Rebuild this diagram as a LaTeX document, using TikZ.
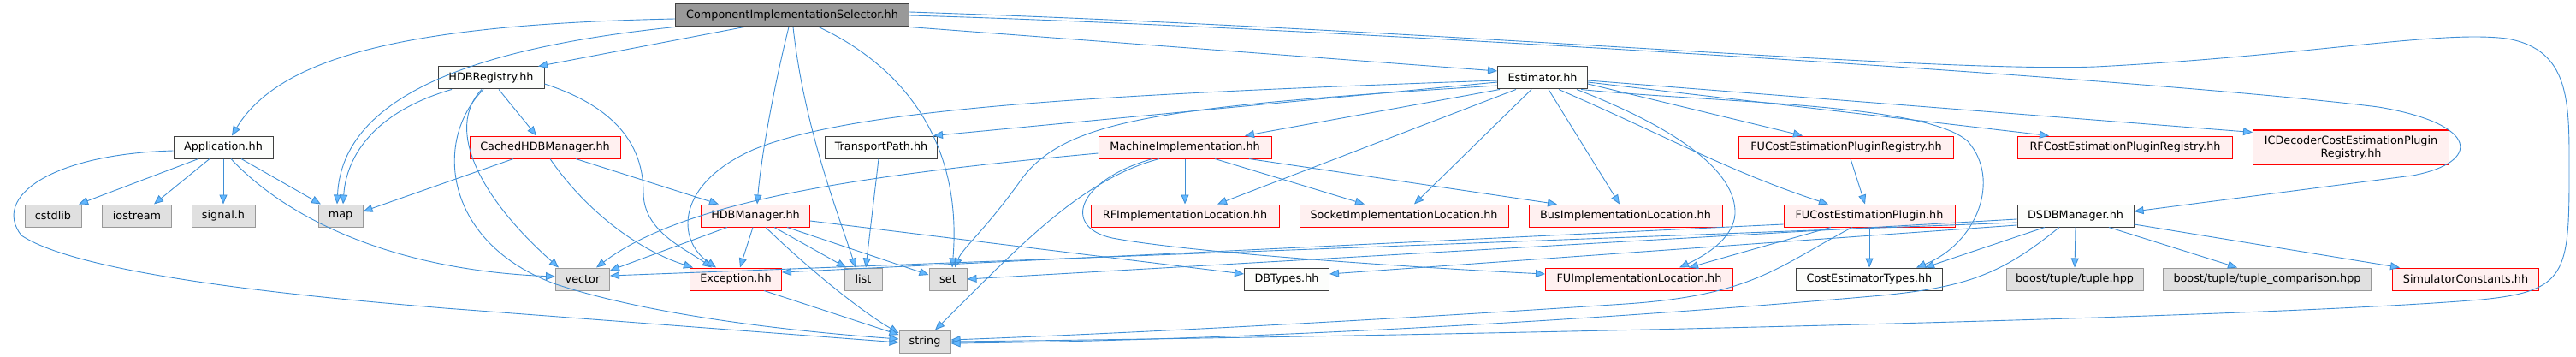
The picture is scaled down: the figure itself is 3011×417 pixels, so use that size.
\documentclass[tikz,border=0pt]{standalone}
\usepackage{fontspec}
\setmainfont{DejaVu Sans}
\usetikzlibrary{arrows.meta}
\definecolor{linec}{HTML}{3F8FD6}
\definecolor{arrowc}{HTML}{63B8FF}
\definecolor{rootfill}{HTML}{999999}
\definecolor{darkb}{HTML}{404040}
\definecolor{redfill}{HTML}{FFF0F0}
\definecolor{sysfill}{HTML}{E0E0E0}
\definecolor{sysb}{HTML}{999999}
\definecolor{whitefill}{HTML}{FCFDFB}
\tikzset{
  nbase/.style={rectangle, inner sep=0pt, minimum height=26pt, line width=1pt, font=\fontsize{12.8pt}{15pt}\selectfont, text=black},
  nroot/.style={nbase, fill=rootfill, draw=darkb},
  nred/.style={nbase, fill=redfill, draw=red},
  nwhite/.style={nbase, fill=whitefill, draw=darkb},
  nsys/.style={nbase, fill=sysfill, draw=sysb},
  dep/.style={draw=linec, line width=0.9pt, line join=round, -{Triangle[length=11pt,width=9pt,fill=arrowc]}}
}
\begin{document}
\begin{tikzpicture}[x=1pt,y=-1pt]
\useasboundingbox (0,0) rectangle (3011,417);
% nodes
\node[nroot, minimum width=273pt] (cis) at (926,18) {ComponentImplementationSelector.hh};
\node[nwhite, minimum width=116pt] (app) at (261,172) {Application.hh};
\node[nsys, minimum width=66pt] (cstdlib) at (62,252) {cstdlib};
\node[nsys, minimum width=81pt] (ios) at (160,252) {iostream};
\node[nsys, minimum width=74pt] (sig) at (261,252) {signal.h};
\node[nsys, minimum width=52pt] (map) at (398,252) {map};
\node[nwhite, minimum width=124pt] (hdbreg) at (574,91) {HDBRegistry.hh};
\node[nred, minimum width=176pt] (chdb) at (637,172) {CachedHDBManager.hh};
\node[nred, minimum width=127pt] (hdbm) at (883,252) {HDBManager.hh};
\node[nsys, minimum width=63pt] (vector) at (681,326) {vector};
\node[nred, minimum width=107pt] (exc) at (860,326) {Exception.hh};
\node[nsys, minimum width=44pt] (list) at (1009,326) {list};
\node[nwhite, minimum width=131pt] (tp) at (1030,172) {TransportPath.hh};
\node[nsys, minimum width=44pt] (set) at (1108,326) {set};
\node[nsys, minimum width=60pt] (string) at (1081,399) {string};
\node[nred, minimum width=202pt] (mi) at (1385,172) {MachineImplementation.hh};
\node[nred, minimum width=220pt] (rf) at (1385,252) {RFImplementationLocation.hh};
\node[nwhite, minimum width=99pt] (dbt) at (1504,326) {DBTypes.hh};
\node[nwhite, minimum width=105pt] (est) at (1803,91) {Estimator.hh};
\node[nred, minimum width=244pt] (sock) at (1641,252) {SocketImplementationLocation.hh};
\node[nred, minimum width=226pt] (bus) at (1900,252) {BusImplementationLocation.hh};
\node[nred, minimum width=219pt] (fuimpl) at (1916,326) {FUImplementationLocation.hh};
\node[nred, minimum width=251pt] (fucepr) at (2158,172) {FUCostEstimationPluginRegistry.hh};
\node[nred, minimum width=200pt] (fucep) at (2185,252) {FUCostEstimationPlugin.hh};
\node[nwhite, minimum width=171pt] (cet) at (2185,326) {CostEstimatorTypes.hh};
\node[nwhite, minimum width=136pt] (dsdb) at (2426,252) {DSDBManager.hh};
\node[nsys, minimum width=160pt] (tuple) at (2425,326) {boost/tuple/tuple.hpp};
\node[nred, minimum width=251pt] (rfcepr) at (2484,172) {RFCostEstimationPluginRegistry.hh};
\node[nred, minimum width=229pt, minimum height=40pt, align=center] (icd) at (2748,172) {ICDecoderCostEstimationPlugin\\Registry.hh};
\node[nsys, minimum width=243pt] (tc) at (2650,326) {boost/tuple/tuple\_comparison.hpp};
\node[nred, minimum width=171pt] (sc) at (2882,326) {SimulatorConstants.hh};
% edges from CIS
\draw[dep] ([yshift=-4pt]cis.west) .. controls (500,28) and (330,60) .. ([xshift=10pt]app.north);
\draw[dep] (cis.south west) .. controls (560,55) and (400,110) .. ([xshift=-4pt]map.north);
\draw[dep] ([xshift=-56pt]cis.south) -- ([xshift=55pt]hdbreg.north);
\draw[dep] ([xshift=-4pt]cis.south) .. controls (905,100) and (890,180) .. ([xshift=2pt]hdbm.north);
\draw[dep] ([xshift=1pt]cis.south) .. controls (940,150) and (980,250) .. ([xshift=-9pt]list.north);
\draw[dep] ([xshift=31pt]cis.south) .. controls (1060,80) and (1125,170) .. ([xshift=5pt]set.north);
\draw[dep] (cis.south east) -- ([yshift=8pt]est.west);
\draw[dep] (cis.east) .. controls (1500,30) and (2500,90) .. (2780,125) .. controls (2900,145) and (2900,190) .. (2820,205) -- ([yshift=5pt]dsdb.east);
\draw[dep] ([yshift=4pt]cis.east) .. controls (1700,35) and (2250,85) .. (2450,78) .. controls (2700,65) and (2850,35) .. (2930,45) .. controls (3005,58) and (3003,120) .. (3003,200) .. controls (3003,320) and (3000,340) .. (2900,350) .. controls (2600,375) and (1500,395) .. (string.east);
% Application
\draw[dep] ([xshift=-29pt]app.south) -- ([xshift=30pt]cstdlib.north);
\draw[dep] ([xshift=-16pt]app.south) -- ([xshift=20pt]ios.north);
\draw[dep] (app.south) -- (sig.north);
\draw[dep] ([xshift=21pt]app.south) -- ([xshift=-23pt]map.north);
\draw[dep] ([xshift=9pt]app.south) .. controls (330,250) and (450,315) .. ([yshift=3pt]vector.west);
\draw[dep] ([yshift=-4pt]app.west) .. controls (60,180) and (-10,230) .. (25,275) .. controls (100,325) and (400,350) .. (520,360) -- ([yshift=-1pt]string.west);
% HDBRegistry
\draw[dep] ([xshift=-46pt]hdbreg.south) .. controls (440,130) and (405,180) .. ([xshift=3pt]map.north);
\draw[dep] ([xshift=9pt]hdbreg.south) -- ([xshift=-10pt]chdb.north);
\draw[dep] ([xshift=-11pt]hdbreg.south) .. controls (520,150) and (560,230) .. ([xshift=-28pt]vector.north);
\draw[dep] ([xshift=-9pt]hdbreg.south) .. controls (505,165) and (520,285) .. (650,332) .. controls (750,365) and (900,385) .. ([yshift=3pt]string.west);
\draw[dep] ([yshift=-7pt]hdbreg.east) .. controls (720,125) and (752,170) .. (752,225) .. controls (752,270) and (800,290) .. ([xshift=-28pt]exc.north);
% CachedHDBManager
\draw[dep] ([xshift=-37pt]chdb.south) -- ([yshift=5pt]map.east);
\draw[dep] ([xshift=36pt]chdb.south) -- ([xshift=-43pt]hdbm.north);
\draw[dep] ([xshift=6pt]chdb.south) .. controls (680,240) and (740,290) .. ([xshift=-50pt]exc.north);
% HDBManager
\draw[dep] ([xshift=-33pt]hdbm.south) -- ([yshift=10pt]vector.east);
\draw[dep] ([xshift=-3pt]hdbm.south) -- ([xshift=5pt]exc.north);
\draw[dep] ([xshift=22pt]hdbm.south) -- ([xshift=-20pt]list.north);
\draw[dep] ([xshift=37pt]hdbm.south) -- ([yshift=5pt]set.west);
\draw[dep] ([xshift=12pt]hdbm.south) .. controls (930,300) and (1000,360) .. ([yshift=10pt]string.west);
\draw[dep] ([yshift=-6pt]hdbm.east) -- ([yshift=6pt]dbt.west);
% Exception, TransportPath
\draw[dep] ([xshift=33pt]exc.south) -- ([yshift=8pt]string.west);
\draw[dep] ([xshift=-3pt]tp.south) -- ([xshift=3pt]list.north);
% MachineImplementation
\draw[dep] ([yshift=-7pt]mi.west) .. controls (1000,205) and (800,235) .. ([xshift=16pt]vector.north);
\draw[dep] ([xshift=-30pt]mi.south) .. controls (1260,210) and (1180,300) .. ([xshift=12pt]string.north);
\draw[dep] (mi.south) -- (rf.north);
\draw[dep] ([xshift=35pt]mi.south) -- ([xshift=-46pt]sock.north);
\draw[dep] ([xshift=75pt]mi.south) -- ([xshift=-80pt]bus.north);
\draw[dep] ([xshift=-38pt]mi.south) .. controls (1260,210) and (1240,265) .. (1300,278) .. controls (1400,297) and (1700,315) .. ([yshift=6pt]fuimpl.west);
% Estimator
\draw[dep] ([yshift=-5pt]est.west) -- ([xshift=-5pt]tp.north east);
\draw[dep] ([xshift=-50pt]est.south) -- ([xshift=70pt]mi.north);
\draw[dep] ([yshift=-3pt]est.west) .. controls (1300,110) and (1000,125) .. (880,175) .. controls (790,215) and (790,280) .. ([xshift=-23pt]exc.north);
\draw[dep] ([yshift=-9pt]est.west) .. controls (1350,125) and (1240,140) .. (1190,215) .. controls (1150,270) and (1125,290) .. ([xshift=8pt]set.north);
\draw[dep] ([xshift=-31pt]est.south) -- ([xshift=38pt]rf.north);
\draw[dep] ([xshift=-13pt]est.south) -- ([xshift=12pt]sock.north);
\draw[dep] ([xshift=7pt]est.south) -- ([xshift=-7pt]bus.north);
\draw[dep] ([yshift=-7pt]est.east) -- ([xshift=-51pt]fucepr.north);
\draw[dep] ([xshift=19pt]est.south) .. controls (1950,160) and (2020,200) .. ([xshift=-48pt]fucep.north);
\draw[dep] ([yshift=-5pt]est.east) -- ([xshift=-89pt]rfcepr.north);
\draw[dep] ([yshift=-3pt]est.east) -- ([yshift=-3pt]icd.north west);
\draw[dep] ([xshift=45pt]est.south) .. controls (2000,120) and (2250,120) .. (2300,165) .. controls (2340,210) and (2310,285) .. ([xshift=55pt]cet.north);
\draw[dep] ([xshift=40pt]est.south) .. controls (1960,150) and (2030,200) .. (2028,250) .. controls (2026,280) and (1990,300) .. ([xshift=47pt]fuimpl.north);
% FU cost estimation
\draw[dep] ([xshift=5pt]fucepr.south) -- ([xshift=-5pt]fucep.north);
\draw[dep] (fucep.south) -- (cet.north);
\draw[dep] ([xshift=-45pt]fucep.south) -- ([xshift=58pt]fuimpl.north);
\draw[dep] ([xshift=-20pt]fucep.south) .. controls (2080,310) and (2050,345) .. (1900,355) .. controls (1600,375) and (1300,390) .. ([yshift=2pt]string.east);
\draw[dep] ([yshift=-10pt]fucep.west) -- ([yshift=8pt]exc.east);
% DSDBManager
\draw[dep] ([xshift=-36pt]dsdb.south) -- ([xshift=65pt]cet.north);
\draw[dep] (dsdb.south) -- (tuple.north);
\draw[dep] ([xshift=39pt]dsdb.south) -- ([xshift=-35pt]tc.north);
\draw[dep] ([yshift=-10pt]dsdb.east) -- ([xshift=-77pt]sc.north);
\draw[dep] ([xshift=-19pt]dsdb.south) .. controls (2340,320) and (2300,335) .. (2200,345) .. controls (1800,380) and (1400,398) .. ([yshift=-2pt]string.east);
\draw[dep] ([yshift=-8pt]dsdb.west) -- ([yshift=4pt]vector.east);
\draw[dep] ([yshift=-4pt]dsdb.west) -- (set.east);
\draw[dep] ([yshift=-11pt]dsdb.west) -- ([yshift=6pt]dbt.east);
\end{tikzpicture}
\end{document}
